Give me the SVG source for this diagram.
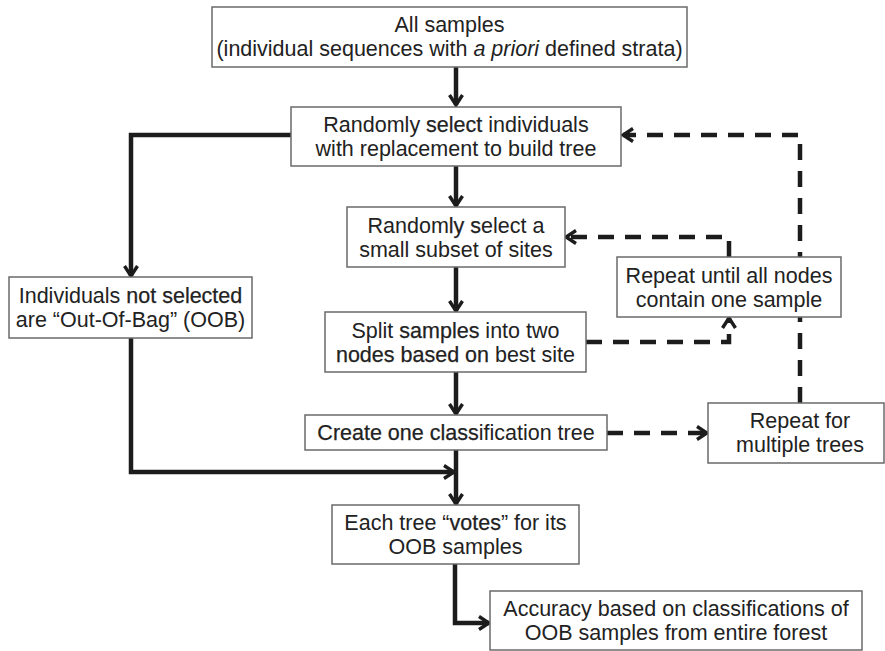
<svg xmlns="http://www.w3.org/2000/svg" width="885" height="651" viewBox="0 0 885 651">
  <style>
    .box { fill: #ffffff; stroke: #6a6a6a; stroke-width: 1.5; }
    .t { font-family: "Liberation Sans", Arial, sans-serif; font-size: 21.5px; fill: #222222; text-anchor: middle; }
    .sb { stroke: #222222; stroke-width: 0.25; }
    .c { fill: none; stroke: #1c1c1c; stroke-width: 4.5; stroke-linejoin: miter; }
    .d { fill: none; stroke: #1c1c1c; stroke-width: 4.5; stroke-dasharray: 16 11; }
  </style>
  <defs>
    <marker id="ah" viewBox="0 0 16 16" refX="13" refY="8" markerWidth="16" markerHeight="16" markerUnits="userSpaceOnUse" orient="auto">
      <path d="M3,1.5 L13,8 L3,14.5" fill="none" stroke="#1c1c1c" stroke-width="3.4" stroke-linejoin="miter"/>
    </marker>
  </defs>
  <rect width="885" height="651" fill="#ffffff"/>

  <g id="connectors">
    <path class="c" d="M456,67 L456,105" marker-end="url(#ah)"/>
    <path class="c" d="M456,166 L456,206" marker-end="url(#ah)"/>
    <path class="c" d="M456,267 L456,311" marker-end="url(#ah)"/>
    <path class="c" d="M456,372 L456,414" marker-end="url(#ah)"/>
    <path class="c" d="M456,450 L456,504" marker-end="url(#ah)"/>
    <path class="c" d="M291,135 L131,135 L131,276" marker-end="url(#ah)"/>
    <path class="c" d="M131,338 L131,472 L454,472" marker-end="url(#ah)"/>
    <path class="c" d="M455,564 L455,623 L489,623" marker-end="url(#ah)"/>
    <path class="d" d="M800,403 L800,135 L623,135" marker-end="url(#ah)"/>
    <path class="d" d="M729,257 L729,237 L566,237" marker-end="url(#ah)"/>
    <path class="d" d="M586,342 L729,342 L729,318" marker-end="url(#ah)"/>
    <path class="d" d="M607,433 L707,433" marker-end="url(#ah)"/>
  </g>

  <g id="all-samples">
    <rect class="box" x="212" y="7" width="475" height="60"/>
    <text class="t" x="449.5" y="32">All samples</text>
    <text class="t" x="449.5" y="56">(individual sequences with <tspan font-style="italic">a priori</tspan> defined strata)</text>
  </g>

  <g id="select-individuals">
    <rect class="box" x="291" y="107" width="330" height="59"/>
    <text class="t" x="456" y="132">Randomly <tspan class="sb">select</tspan> individuals</text>
    <text class="t" x="456" y="156">with replacement to build tree</text>
  </g>

  <g id="select-sites">
    <rect class="box" x="347" y="207" width="218" height="60"/>
    <text class="t" x="456" y="233">Random<tspan class="sb">ly s</tspan>elect a</text>
    <text class="t" x="456" y="257">small subset of sites</text>
  </g>

  <g id="split-samples">
    <rect class="box" x="325" y="312" width="261" height="60"/>
    <text class="t" x="455.5" y="338">Split <tspan class="sb">samples</tspan> into two</text>
    <text class="t" x="455.5" y="362"><tspan class="sb">nodes based on</tspan> best site</text>
  </g>

  <g id="create-tree">
    <rect class="box" x="305" y="415" width="302" height="35"/>
    <text class="t" x="456" y="440"><tspan class="sb">Create one class</tspan>ification tree</text>
  </g>

  <g id="out-of-bag">
    <rect class="box" x="9" y="277" width="243" height="61"/>
    <text class="t" x="130.5" y="303">Individuals <tspan class="sb">not selected</tspan></text>
    <text class="t" x="130.5" y="327">are “Out-Of-Bag” (OOB)</text>
  </g>

  <g id="repeat-nodes">
    <rect class="box" x="617" y="257" width="224" height="60"/>
    <text class="t" x="729" y="283">Repeat until all nodes</text>
    <text class="t" x="729" y="307">contain one sample</text>
  </g>

  <g id="repeat-trees">
    <rect class="box" x="708" y="403" width="176" height="60"/>
    <text class="t" x="800" y="428">Repeat for</text>
    <text class="t" x="800" y="452">multiple trees</text>
  </g>

  <g id="votes">
    <rect class="box" x="332" y="505" width="247" height="59"/>
    <text class="t" x="455.5" y="530">Each tree “<tspan class="sb">votes</tspan>” for its</text>
    <text class="t" x="455.5" y="554">OOB samples</text>
  </g>

  <g id="accuracy">
    <rect class="box" x="490" y="591" width="372" height="59"/>
    <text class="t" x="676" y="616">Accuracy based on classifications of</text>
    <text class="t" x="676" y="640">OOB samples from entire forest</text>
  </g>
</svg>
